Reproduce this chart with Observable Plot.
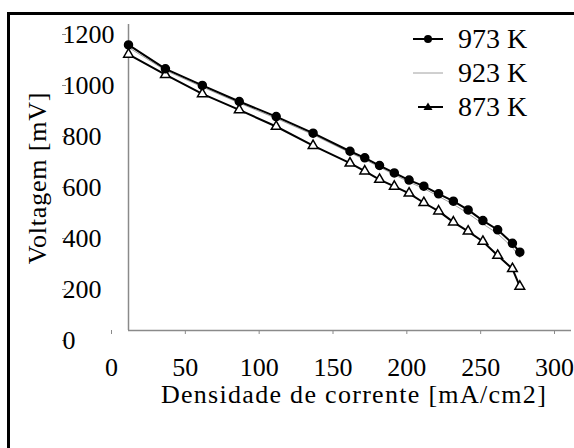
<!DOCTYPE html>
<html>
<head>
<meta charset="utf-8">
<script src="https://cdn.jsdelivr.net/npm/d3@7"></script>
<script src="https://cdn.jsdelivr.net/npm/@observablehq/plot@0.6"></script>
<style>
  html, body { margin: 0; padding: 0; background: #fff; overflow: hidden; }
  #wrap { position: relative; width: 574px; height: 448px; overflow: hidden; font-family: "Liberation Serif", "DejaVu Serif", serif; color: #000; }
  #frame { position: absolute; left: 7px; top: 12px; width: 567px; height: 436px; border-left: 3px solid #000; border-top: 3px solid #000; box-sizing: border-box; }
  #chart { position: absolute; left: 0; top: 0; width: 574px; }
  #ytitle { position: absolute; left: 38px; top: 178px; transform: translate(-50%, -50%) rotate(-90deg); font-size: 26px; letter-spacing: 0.8px; white-space: nowrap; line-height: 26px; }
  #xtitle { position: absolute; left: 354px; top: 382px; transform: translateX(-50%); font-size: 26px; letter-spacing: 1.3px; white-space: nowrap; line-height: 26px; }
  #legend { position: absolute; left: 413px; top: 22px; }
  .lrow { display: flex; align-items: center; height: 34px; }
  .lrow span { font-size: 28px; margin-left: 15px; line-height: 34px; white-space: nowrap; }
</style>
</head>
<body>
<div id="wrap">
  <div id="frame"></div>
  <div id="chart"></div>
  <div id="ytitle"></div>
  <div id="xtitle"></div>
  <div id="legend"></div>
</div>
<script>
// Current density [mA/cm2]
const density = [0, 25, 50, 75, 100, 125, 150, 160, 170, 180, 190, 200, 210, 220, 230, 240, 250, 260, 265];
// Voltage [mV] per temperature
const v973 = [1120, 1026, 961, 898, 839, 774, 703, 677, 647, 618, 590, 566, 536, 507, 473, 431, 395, 342, 307];
const v923 = [1110, 1020, 955, 892, 832, 768, 697, 670, 641, 611, 582, 557, 526, 495, 459, 418, 380, 326, 286];
const v873 = [1083, 1003, 928, 865, 800, 725, 656, 625, 592, 565, 538, 501, 468, 425, 389, 349, 294, 242, 173];
const seriesNames = ["973 K", "923 K", "873 K"];
const xTicks = [0, 50, 100, 150, 200, 250, 300];
const yTicks = [0, 200, 400, 600, 800, 1000, 1200];
const xTitle = "Densidade de corrente [mA/cm2]";
const yTitle = "Voltagem [mV]";

const rows = (vals) => density.map((d, i) => ({x: d, y: vals[i]}));
const r973 = rows(v973), r923 = rows(v923), r873 = rows(v873);

const axisGrey = "#8a8a8a";
const chart = Plot.plot({
  width: 574,
  height: 448,
  marginLeft: 128,
  marginRight: 3,
  marginTop: 24,
  marginBottom: 118,
  x: {domain: [0, 300]},
  y: {domain: [0, 1200]},
  style: {fontFamily: "'Liberation Serif', 'DejaVu Serif', serif", fontSize: "26px", background: "transparent", color: "#000", overflow: "visible"},
  marks: [
    Plot.ruleX([0], {stroke: axisGrey, strokeWidth: 1.5}),
    Plot.ruleY([0], {stroke: axisGrey, strokeWidth: 1.5}),
    Plot.axisY(yTicks, {tickSize: 4, tickPadding: 0, textAnchor: "start", dx: -62, dy: 10, stroke: axisGrey, label: null, tickFormat: d => String(d), fontFamily: "Liberation Serif"}),
    Plot.axisX(xTicks, {tickSize: 4, tickPadding: 23, dx: -17, stroke: axisGrey, label: null, tickFormat: d => String(d), fontFamily: "Liberation Serif"}),
    Plot.line(r923, {x: "x", y: "y", stroke: "#a0a0a0", strokeWidth: 1}),
    Plot.line(r873, {x: "x", y: "y", stroke: "#000", strokeWidth: 2}),
    Plot.dot(r873, {x: "x", y: "y", symbol: "triangle", r: 3.6, fill: "#fff", stroke: "#000", strokeWidth: 1.5}),
    Plot.line(r973, {x: "x", y: "y", stroke: "#000", strokeWidth: 2}),
    Plot.dot(r973, {x: "x", y: "y", r: 4, fill: "#000", stroke: "#000"})
  ]
});
document.getElementById("chart").appendChild(chart);
document.getElementById("xtitle").textContent = xTitle;
document.getElementById("ytitle").textContent = yTitle;

// Legend
const samples = [
  `<line x1="0" y1="17" x2="30" y2="17" stroke="#000" stroke-width="2"/><circle cx="15" cy="17" r="4" fill="#000"/>`,
  `<line x1="0" y1="17" x2="30" y2="17" stroke="#a0a0a0" stroke-width="1"/>`,
  `<line x1="5" y1="17" x2="30" y2="17" stroke="#000" stroke-width="2"/><path d="M15,12.5 L19.5,20 L10.5,20 Z" fill="#000"/>`
];
const legend = document.getElementById("legend");
seriesNames.forEach((name, i) => {
  const row = document.createElement("div");
  row.className = "lrow";
  row.innerHTML = `<svg width="30" height="34">${samples[i]}</svg><span>${name}</span>`;
  legend.appendChild(row);
});
</script>
</body>
</html>
